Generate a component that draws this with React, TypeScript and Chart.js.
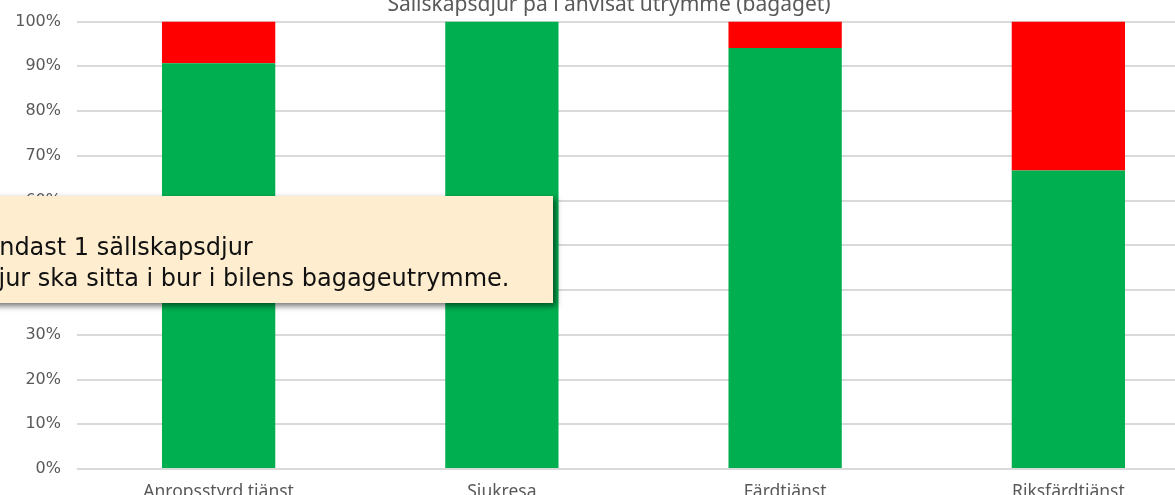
import React, { useEffect, useRef } from "react";
import { Chart, registerables } from "chart.js";

Chart.register(...registerables);

const categories = ["Anropsstyrd tjänst", "Sjukresa", "Färdtjänst", "Riksfärdtjänst"];
const seriesNames = ["Ja", "Nej"];
const jaValues = [90.7, 100, 94.1, 66.7];
const nejValues = [9.3, 0, 5.9, 33.3];
const yTicks = [0, 10, 20, 30, 40, 50, 60, 70, 80, 90, 100];
const chartTitle = "Sällskapsdjur på i anvisat utrymme (bagaget)";
const noteLines = ["Endast 1 sällskapsdjur", "Djur ska sitta i bur i bilens bagageutrymme."];

export default function App() {
  const ref = useRef<HTMLCanvasElement | null>(null);

  useEffect(() => {
    if (!ref.current) return;
    const chart = new Chart(ref.current, {
      type: "bar",
      data: {
        labels: categories,
        datasets: [
          { label: seriesNames[0], data: jaValues, backgroundColor: "#00B050", borderWidth: 0 },
          { label: seriesNames[1], data: nejValues, backgroundColor: "#FF0000", borderWidth: 0 },
        ],
      },
      options: {
        animation: false,
        responsive: true,
        maintainAspectRatio: false,
        layout: { padding: { left: 0, right: 6, top: 0, bottom: 0 } },
        plugins: {
          legend: { display: false },
          tooltip: { enabled: false },
          title: {
            display: true,
            text: chartTitle,
            color: "#595959",
            font: { family: "'Noto Sans', sans-serif", size: 21, weight: "normal" },
            padding: { top: 0, bottom: 4.4 },
          },
        },
        scales: {
          x: {
            stacked: true,
            grid: { display: false },
            border: { display: false },
            ticks: {
              color: "#595959",
              font: { family: "'Noto Sans', sans-serif", size: 17.5 },
              padding: 5,
            },
          },
          y: {
            stacked: true,
            min: 0,
            max: 100,
            afterFit: (axis: any) => {
              axis.width = 69;
            },
            afterBuildTicks: (axis: any) => {
              axis.ticks = yTicks.map((v) => ({ value: v }));
            },
            grid: { color: "#d9d9d9", lineWidth: 2, drawTicks: false },
            border: { display: false },
            ticks: {
              color: "#595959",
              font: { family: "'DejaVu Sans', sans-serif", size: 16 },
              padding: 16,
              callback: (v: any) => v + "%",
            },
          },
        },
        datasets: { bar: { categoryPercentage: 0.8, barPercentage: 0.5 } } as any,
      },
    });
    return () => chart.destroy();
  }, []);

  return (
    <div style={{ position: "fixed", inset: 0, overflow: "hidden", background: "#fff" }}>
      <div style={{ position: "absolute", left: 8, top: -7.6, width: 1208, height: 516 }}>
        <canvas ref={ref} />
      </div>
      <div
        style={{
          position: "absolute",
          left: -40,
          top: 196,
          width: 593,
          height: 107,
          background: "#FEEDCF",
          boxShadow: "3px 3px 6px rgba(0,0,0,0.55)",
          fontFamily: "'DejaVu Sans', Verdana, sans-serif",
          fontSize: 24,
          color: "#111",
        }}
      >
        <div style={{ position: "absolute", left: 24, top: 35.5, lineHeight: "31px", whiteSpace: "nowrap" }}>
          <div>{noteLines[0]}</div>
          <div style={{ marginLeft: -4 }}>{noteLines[1]}</div>
        </div>
      </div>
    </div>
  );
}
